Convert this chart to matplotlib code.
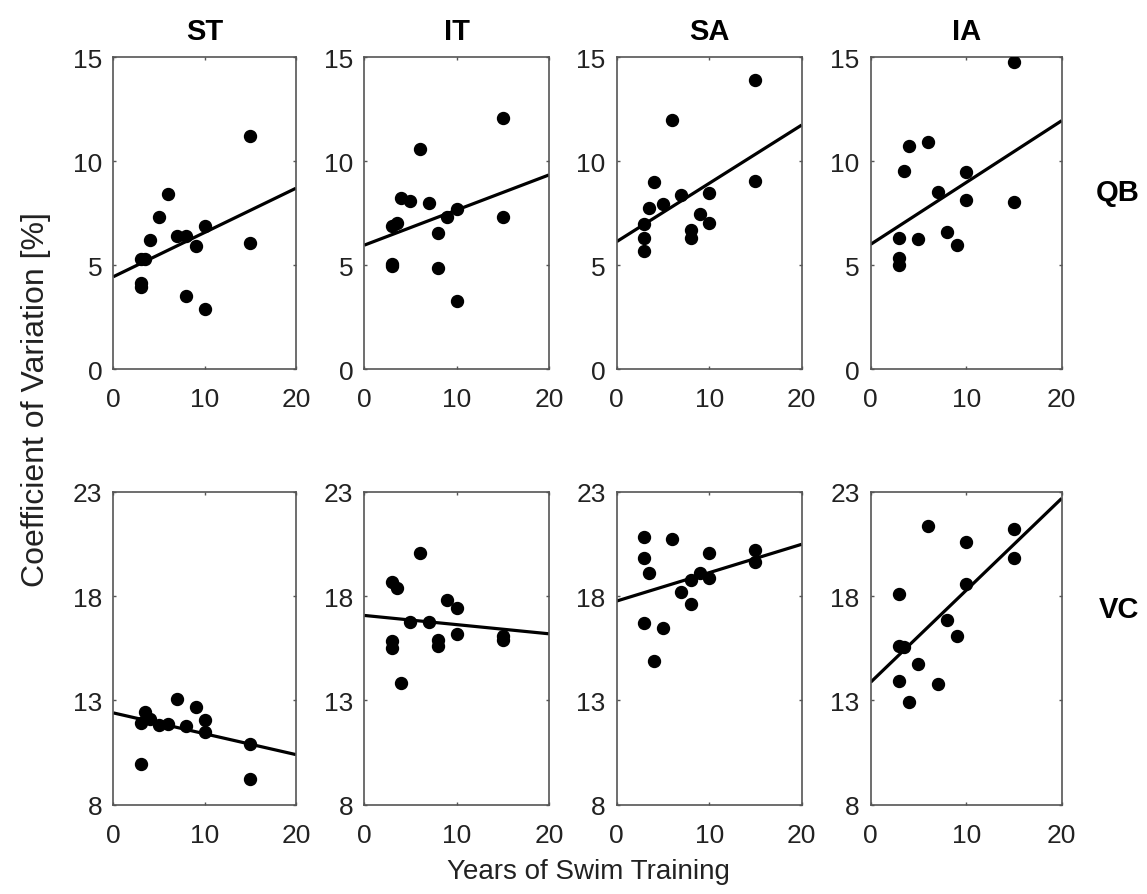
import matplotlib
matplotlib.use("Agg")
import matplotlib.pyplot as plt

plt.rcParams['font.family'] = ['Liberation Sans', 'DejaVu Sans']

# column / row names
muscles = ['ST', 'IT', 'SA', 'IA']
rows = ['QB', 'VC']

# --- quiet breathing (QB) ---
st_qb_x = [15, 6, 5, 4, 7, 8, 10, 9, 15, 3, 3.5, 3, 3, 8, 10]
st_qb_y = [11.2, 8.4, 7.3, 6.2, 6.4, 6.4, 6.9, 5.9, 6.05, 5.3, 5.3, 4.15, 3.95, 3.5, 2.9]

it_qb_x = [15, 6, 4, 5, 7, 10, 9, 15, 3, 3.5, 8, 3, 3, 8, 10]
it_qb_y = [12.1, 10.6, 8.25, 8.1, 8.0, 7.7, 7.3, 7.3, 6.9, 7.05, 6.55, 5.05, 4.95, 4.85, 3.25]

sa_qb_x = [15, 6, 4, 15, 5, 7, 10, 3.5, 3, 3, 3, 9, 10, 8, 8]
sa_qb_y = [13.9, 12.0, 9.0, 9.05, 7.95, 8.35, 8.45, 7.75, 7.0, 6.3, 5.7, 7.45, 7.05, 6.7, 6.3]

ia_qb_x = [15, 4, 6, 3.5, 10, 7, 10, 15, 3, 5, 8, 9, 3, 3]
ia_qb_y = [14.75, 10.75, 10.9, 9.55, 9.5, 8.5, 8.15, 8.05, 6.3, 6.25, 6.6, 5.95, 5.35, 5.0]

# --- vital capacity (VC) ---
st_vc_x = [7, 9, 3.5, 3, 4, 5, 6, 8, 10, 10, 15, 3, 15]
st_vc_y = [13.05, 12.7, 12.45, 11.9, 12.1, 11.8, 11.85, 11.75, 12.05, 11.5, 10.9, 9.95, 9.22]

it_vc_x = [6, 3, 3.5, 9, 10, 5, 7, 10, 15, 15, 3, 3, 8, 8, 4]
it_vc_y = [20.05, 18.65, 18.4, 17.8, 17.45, 16.75, 16.75, 16.2, 16.1, 15.9, 15.85, 15.5, 15.9, 15.6, 13.85]

sa_vc_x = [3, 6, 3, 3.5, 10, 15, 15, 9, 10, 8, 7, 8, 3, 5, 4]
sa_vc_y = [20.85, 20.75, 19.8, 19.1, 20.05, 20.2, 19.65, 19.1, 18.85, 18.75, 18.2, 17.6, 16.7, 16.45, 14.9]

ia_vc_x = [6, 15, 10, 15, 10, 3, 8, 9, 3, 3.5, 5, 3, 7, 4]
ia_vc_y = [21.35, 21.2, 20.6, 19.8, 18.6, 18.1, 16.85, 16.1, 15.6, 15.55, 14.75, 13.95, 13.8, 12.9]

# regression lines: value at 0 and at 20 years
qb_fit_start = [4.44, 5.96, 6.13, 6.0]
qb_fit_end = [8.70, 9.34, 11.74, 11.95]
vc_fit_start = [12.4, 17.07, 17.76, 13.87]
vc_fit_end = [10.4, 16.19, 20.48, 22.68]

qb_yticks = [0, 5, 10, 15]
vc_yticks = [8, 13, 18, 23]
xticks = [0, 10, 20]


def draw_panel(ax, x, y, fit_start, fit_end, yticks):
    '''
    Scatter of one muscle/manoeuvre with its regression line.
    '''
    ax.plot(x, y, 'o', color='black', markersize=8.6, zorder=3)
    ax.plot([xticks[0], xticks[-1]], [fit_start, fit_end], color='black', lw=2.3,
            solid_capstyle='butt', zorder=2)
    ax.set_xlim(xticks[0], xticks[-1])
    ax.set_ylim(yticks[0], yticks[-1])
    ax.set_xticks(xticks)
    ax.set_yticks(yticks)
    ax.tick_params(direction='in', length=2.5, width=1, color='#555555',
                   top=True, right=True, labelsize=19, labelcolor='#222222')
    ax.tick_params(axis='x', pad=13)
    ax.tick_params(axis='y', pad=8)
    for sp in ax.spines.values():
        sp.set_color('#555555')
        sp.set_linewidth(1.2)


W, H = 1147, 895
fig = plt.figure(figsize=(W / 100, H / 100), dpi=100)

# axes edges in pixels
col_left = [113.3, 364.3, 616.7, 870.7]
col_right = [296, 549, 801.7, 1061.7]
row_top = [58.3, 492.7]
row_bottom = [370, 805.7]

data = [
    [(st_qb_x, st_qb_y), (it_qb_x, it_qb_y), (sa_qb_x, sa_qb_y), (ia_qb_x, ia_qb_y)],
    [(st_vc_x, st_vc_y), (it_vc_x, it_vc_y), (sa_vc_x, sa_vc_y), (ia_vc_x, ia_vc_y)],
]
fits = [(qb_fit_start, qb_fit_end), (vc_fit_start, vc_fit_end)]
ticks = [qb_yticks, vc_yticks]

for r in range(2):
    for c in range(4):
        rect = [col_left[c] / W, 1 - row_bottom[r] / H,
                (col_right[c] - col_left[c]) / W, (row_bottom[r] - row_top[r]) / H]
        ax = fig.add_axes(rect)
        x, y = data[r][c]
        draw_panel(ax, x, y, fits[r][0][c], fits[r][1][c], ticks[r])
        if r == 0:
            ax.set_title(muscles[c], fontsize=21, fontweight='bold', pad=13)

# row labels on the right
fig.text(1118 / W, 1 - 193 / H, rows[0], fontsize=21, fontweight='bold',
         ha='center', va='center')
fig.text(1119 / W, 1 - 610 / H, rows[1], fontsize=21, fontweight='bold',
         ha='center', va='center')

fig.text(36 / W, 1 - 400 / H, 'Coefficient of Variation [%]', fontsize=23,
         rotation=90, ha='center', va='center', color='#222222')
fig.text(588 / W, 1 - 872 / H, 'Years of Swim Training', fontsize=20,
         ha='center', va='center', color='#222222')

fig.savefig('out.png', dpi=100)
